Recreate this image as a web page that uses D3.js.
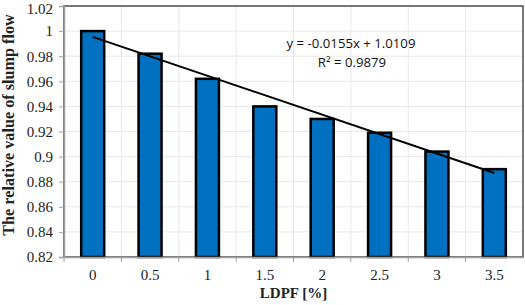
<!DOCTYPE html>
<html>
<head>
<meta charset="utf-8">
<script src="https://cdn.jsdelivr.net/npm/d3@7"></script>
<style>
  body { margin: 0; background: #fff; }
  svg { display: block; }
</style>
</head>
<body>
<svg width="525" height="305"></svg>
<script>
// data
const categories = ["0", "0.5", "1", "1.5", "2", "2.5", "3", "3.5"];
const values = [1.0, 0.982, 0.962, 0.940, 0.930, 0.919, 0.904, 0.890];
const yTicks = [0.82, 0.84, 0.86, 0.88, 0.9, 0.92, 0.94, 0.96, 0.98, 1, 1.02];
// trendline from Excel: y = -0.0155x + 1.0109 (x = 1..8)
const slope = -0.0155;
const intercept = 1.0109;

const svg = d3.select("svg");
const margin = {top: 6, right: 2, bottom: 48, left: 64};
const width = +svg.attr("width") - margin.left - margin.right;
const height = +svg.attr("height") - margin.top - margin.bottom;

const x = d3.scaleBand().domain(categories).range([0, width]).paddingInner(0).paddingOuter(0);
const y = d3.scaleLinear().domain([0.82, 1.02]).range([height, 0]);

const g = svg.append("g").attr("transform", `translate(${margin.left},${margin.top})`);

// gridlines
g.append("g")
  .selectAll("line")
  .data(yTicks)
  .enter()
  .append("line")
  .attr("x1", 0).attr("x2", width)
  .attr("y1", d => y(d)).attr("y2", d => y(d))
  .attr("stroke", "#e8e8e8");

g.append("g")
  .selectAll("line")
  .data(categories.slice(1))
  .enter()
  .append("line")
  .attr("x1", d => x(d)).attr("x2", d => x(d))
  .attr("y1", 0).attr("y2", height)
  .attr("stroke", "#e8e8e8");

// frame (top/right)
g.append("rect")
  .attr("x", 0).attr("y", 0)
  .attr("width", width).attr("height", height)
  .attr("fill", "none")
  .attr("stroke", "#4d4d4d")
  .attr("stroke-width", 1.5);

// bars
const barW = 23;
g.append("g")
  .selectAll("rect")
  .data(values)
  .enter()
  .append("rect")
  .attr("x", (d, i) => x(categories[i]) + x.bandwidth() / 2 - barW / 2)
  .attr("y", d => y(d))
  .attr("width", barW)
  .attr("height", d => y(0.82) - y(d))
  .attr("fill", "#0070C0")
  .attr("stroke", "#000")
  .attr("stroke-width", 2.5);

// axes
const yAxis = g.append("g")
  .call(d3.axisLeft(y).tickValues(yTicks).tickSize(5).tickPadding(6).tickFormat(d => String(+d.toFixed(2))));
const xAxis = g.append("g")
  .attr("transform", `translate(0,${height})`)
  .call(d3.axisBottom(x).tickSize(0).tickPadding(12));

// category boundary tick marks
g.append("g")
  .selectAll("line")
  .data(categories)
  .enter()
  .append("line")
  .attr("x1", d => x(d)).attr("x2", d => x(d))
  .attr("y1", height).attr("y2", height + 5)
  .attr("stroke", "#a0a0a0");

[yAxis, xAxis].forEach(a => {
  a.select(".domain").attr("stroke", "#a0a0a0").attr("stroke-width", 1.5);
  a.selectAll(".tick line").attr("stroke", "#a0a0a0");
  a.selectAll("text")
    .attr("font-family", "'Liberation Serif', 'Times New Roman', serif")
    .attr("font-size", 15)
    .attr("fill", "#222");
});
// keep the top label inside the page
yAxis.selectAll(".tick text").filter(d => d === 1.02).attr("dy", "0.5em");

// trendline
const cx = i => x(categories[i]) + x.bandwidth() / 2;
g.append("line")
  .attr("x1", cx(0)).attr("y1", y(slope * 1 + intercept))
  .attr("x2", cx(categories.length - 1)).attr("y2", y(slope * categories.length + intercept))
  .attr("stroke", "#000")
  .attr("stroke-width", 2);

// equation
const eq = g.append("g")
  .attr("font-family", "'Open Sans', 'Noto Sans', sans-serif")
  .attr("font-size", 13.2)
  .attr("text-anchor", "middle")
  .attr("fill", "#111");
eq.append("text").attr("x", 351 - margin.left).attr("y", 48 - margin.top).text("y = -0.0155x + 1.0109");
eq.append("text").attr("x", 352 - margin.left).attr("y", 67 - margin.top).text("R² = 0.9879");

// axis titles
svg.append("text")
  .attr("transform", "translate(14,125) rotate(-90)")
  .attr("text-anchor", "middle")
  .attr("font-family", "'Liberation Serif', 'Times New Roman', serif")
  .attr("font-weight", "bold")
  .attr("font-size", 16.2)
  .attr("fill", "#222")
  .text("The relative value of slump flow");

svg.append("text")
  .attr("x", margin.left + width / 2)
  .attr("y", 298)
  .attr("text-anchor", "middle")
  .attr("font-family", "'Liberation Serif', 'Times New Roman', serif")
  .attr("font-weight", "bold")
  .attr("font-size", 15)
  .attr("fill", "#222")
  .text("LDPF [%]");
</script>
</body>
</html>
